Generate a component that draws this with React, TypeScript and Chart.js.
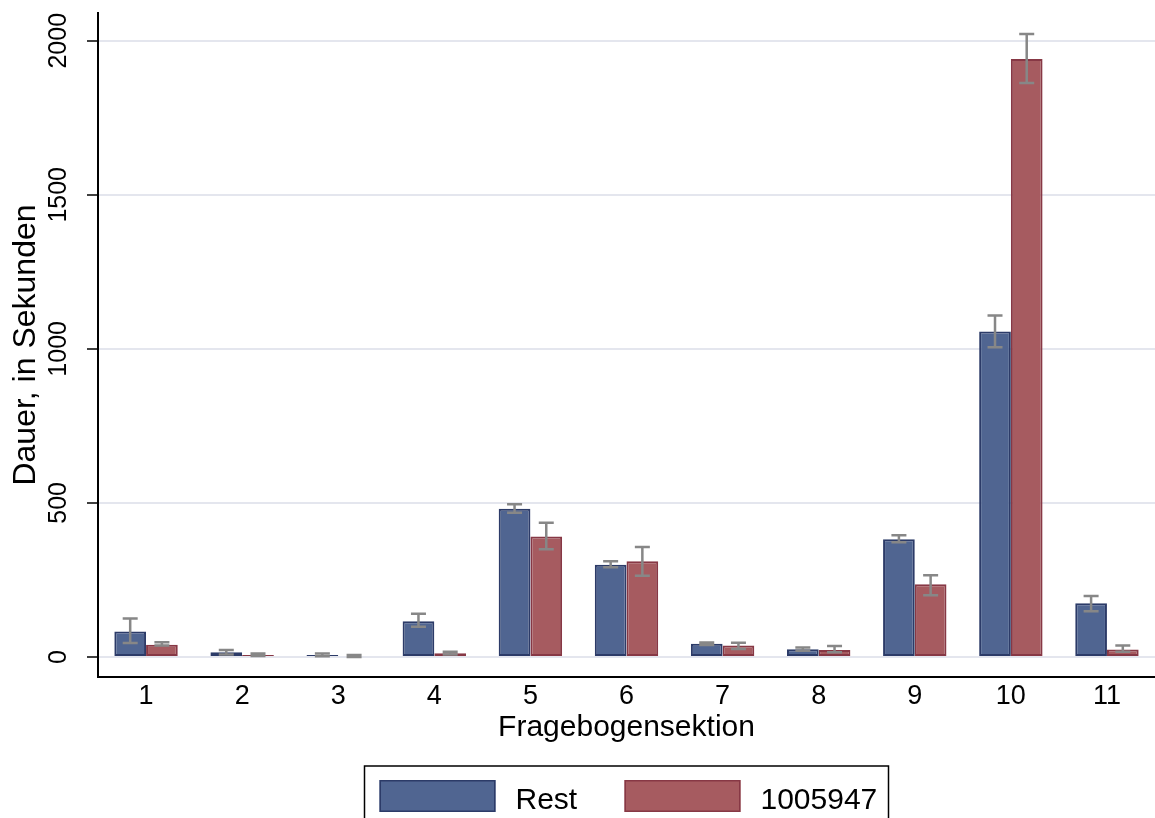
import React, { useEffect, useRef } from "react";
import { Chart, registerables } from "chart.js";

Chart.register(...registerables);

const categories = ["1", "2", "3", "4", "5", "6", "7", "8", "9", "10", "11"];
const seriesNames = ["Rest", "1005947"];
const restMean = [83, 15, 6, 116, 481, 299, 43, 25, 382, 1056, 174];
const restLow = [45, 8, 2, 98, 468, 291, 39, 20, 372, 1005, 148];
const restHigh = [125, 23, 11, 140, 496, 311, 47, 31, 395, 1108, 198];
const idMean = [40, 6, 3, 12, 391, 311, 37, 23, 236, 1941, 24];
const idLow = [37, 3, 0, 8, 350, 264, 26, 15, 200, 1863, 17];
const idHigh = [48, 11, 6, 17, 436, 357, 46, 36, 265, 2022, 37];
const yTicks = [0, 500, 1000, 1500, 2000];
const yMin = -65;
const yMax = 2090;

const FONT = "'Liberation Sans', Arial, Helvetica, sans-serif";
const BLUE = "#506591";
const BLUE_BORDER = "#2c3b68";
const RED = "#a65b60";
const RED_BORDER = "#873845";
const ERR = "#878787";

const errorBarPlugin = {
  id: "errorBars",
  afterDatasetsDraw(chart: any) {
    const ctx = chart.ctx;
    const y = chart.scales.y;
    const ranges = [
      [restLow, restHigh],
      [idLow, idHigh],
    ];
    ctx.save();
    ctx.strokeStyle = ERR;
    ctx.lineWidth = 2.5;
    ranges.forEach(([lo, hi], di) => {
      const meta = chart.getDatasetMeta(di);
      meta.data.forEach((bar: any, i: number) => {
        const x = bar.x;
        const yl = y.getPixelForValue(lo[i]);
        const yh = y.getPixelForValue(hi[i]);
        const cap = 7.5;
        ctx.beginPath();
        ctx.moveTo(x, yl);
        ctx.lineTo(x, yh);
        ctx.moveTo(x - cap, yl);
        ctx.lineTo(x + cap, yl);
        ctx.moveTo(x - cap, yh);
        ctx.lineTo(x + cap, yh);
        ctx.stroke();
      });
    });
    ctx.restore();
  },
};

const legendPlugin = {
  id: "stataLegend",
  afterDraw(chart: any) {
    const ctx = chart.ctx;
    const area = chart.chartArea;
    const cx = (area.left + area.right) / 2;
    const boxLeft = cx - 262;
    const boxRight = cx + 262;
    const boxTop = 766;
    ctx.save();
    ctx.strokeStyle = "#000";
    ctx.lineWidth = 1.5;
    ctx.strokeRect(boxLeft, boxTop, boxRight - boxLeft, 80);
    const items = [
      { name: seriesNames[0], fill: BLUE, border: BLUE_BORDER, x: boxLeft + 15 },
      { name: seriesNames[1], fill: RED, border: RED_BORDER, x: boxLeft + 260 },
    ];
    ctx.font = `30px ${FONT}`;
    ctx.textBaseline = "alphabetic";
    ctx.textAlign = "left";
    items.forEach((it) => {
      ctx.fillStyle = it.fill;
      ctx.fillRect(it.x, 780, 116, 32);
      ctx.strokeStyle = it.border;
      ctx.lineWidth = 1.5;
      ctx.strokeRect(it.x + 0.75, 780.75, 114.5, 30.5);
      ctx.fillStyle = "#000";
      ctx.fillText(it.name, it.x + 136, 809);
    });
    ctx.restore();
  },
};

export default function App() {
  const ref = useRef<HTMLCanvasElement | null>(null);

  useEffect(() => {
    if (!ref.current) return;
    const chart = new Chart(ref.current, {
      type: "bar",
      data: {
        labels: categories,
        datasets: [
          {
            label: seriesNames[0],
            data: restMean,
            backgroundColor: BLUE,
            borderColor: BLUE_BORDER,
            borderWidth: 2,
            borderSkipped: false,
          },
          {
            label: seriesNames[1],
            data: idMean,
            backgroundColor: RED,
            borderColor: RED_BORDER,
            borderWidth: 2,
            borderSkipped: false,
          },
        ],
      },
      options: {
        animation: false,
        responsive: false,
        devicePixelRatio: 1,
        layout: { padding: { top: 13, right: 0, left: 0, bottom: 71 } },
        datasets: { bar: { barPercentage: 1, categoryPercentage: 0.66 } },
        plugins: {
          legend: { display: false },
          tooltip: { enabled: false },
        },
        scales: {
          x: {
            grid: { display: false, drawTicks: false, tickLength: 0 },
            border: { display: true, color: "#000", width: 2 },
            ticks: {
              color: "#000",
              font: { family: FONT, size: 27 },
              padding: 3,
              maxRotation: 0,
              minRotation: 0,
            },
            title: {
              display: true,
              text: "Fragebogensektion",
              color: "#000",
              font: { family: FONT, size: 30 },
              padding: { top: 0, bottom: 1 },
            },
            afterFit(scale: any) {
              scale.height = 70;
              scale.paddingLeft = 0;
              scale.paddingRight = 0;
            },
          },
          y: {
            min: yMin,
            max: yMax,
            afterBuildTicks(scale: any) {
              scale.ticks = yTicks.map((v) => ({ value: v }));
            },
            afterFit(scale: any) {
              scale.width = 98;
              scale.paddingTop = 0;
              scale.paddingBottom = 0;
            },
            grid: {
              color: "#e4e6ee",
              lineWidth: 2,
              tickColor: "#000",
              tickWidth: 1.5,
              tickLength: 11,
              drawTicks: true,
            },
            border: { display: true, color: "#000", width: 2 },
            ticks: {
              color: "#000",
              font: { family: FONT, size: 25 },
              minRotation: 90,
              maxRotation: 90,
              crossAlign: "center",
              padding: 0,
              callback: (v: any) => String(v),
            },
            title: {
              display: true,
              text: "Dauer, in Sekunden",
              color: "#000",
              font: { family: FONT, size: 32 },
              padding: { top: 7, bottom: 0 },
            },
          },
        },
      },
      plugins: [errorBarPlugin, legendPlugin],
    } as any);
    return () => chart.destroy();
  }, []);

  return (
    <div style={{ position: "fixed", left: 0, top: 0, width: 1155, height: 818, background: "#fff" }}>
      <canvas ref={ref} width={1155} height={818} style={{ display: "block", width: 1155, height: 818 }} />
    </div>
  );
}
